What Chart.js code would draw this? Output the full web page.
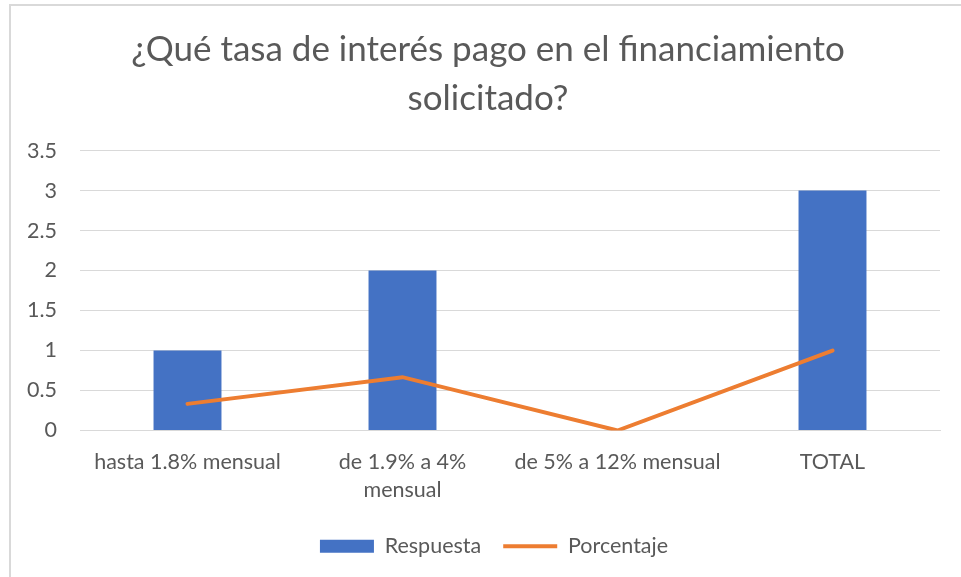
<!DOCTYPE html>
<html lang="es">
<head>
    <meta charset="UTF-8">
    <title>Tasa de interés</title>
    <script src="https://cdn.jsdelivr.net/npm/chart.js"></script>
    <style>
        body { margin: 0; background: #fff; }
        .wrap { position: relative; width: 961px; height: 577px; overflow: hidden; }
        .frame { position: absolute; left: 9px; top: 4px; width: 1000px; height: 1000px;
                 border-left: 2px solid #d9d9d9; border-top: 2px solid #d9d9d9; }
        .chart-box { position: absolute; left: 0; top: 0; width: 961px; height: 577px; }
    </style>
</head>
<body>
<div class="wrap">
    <div class="frame"></div>
    <div class="chart-box"><canvas id="rateChart"></canvas></div>
</div>

<script>
    // datos del gráfico
    const categorias = ['hasta 1.8% mensual', ['de 1.9% a 4%', 'mensual'], 'de 5% a 12% mensual', 'TOTAL'];
    const respuesta = [1, 2, 0, 3];
    const porcentaje = [0.333, 0.667, 0, 1];
    const yTicks = [0, 0.5, 1, 1.5, 2, 2.5, 3, 3.5];

    const gris = '#595959';
    const fuente = 'Lato, "Open Sans", sans-serif';

    // centra título y leyenda un poco más a la derecha, como en el original
    const desplazar = {
        id: 'desplazar',
        afterLayout: function(chart) {
            chart.titleBlock.left += 26;
            chart.legend.left += 38;
        }
    };

    const ctx = document.getElementById('rateChart').getContext('2d');
    new Chart(ctx, {
        type: 'bar',
        data: {
            labels: categorias,
            datasets: [{
                label: 'Respuesta',
                data: respuesta,
                backgroundColor: '#4472C4',
                borderWidth: 0,
                barPercentage: 0.316,
                categoryPercentage: 1,
                pointStyle: 'rect',
                order: 2
            }, {
                type: 'line',
                label: 'Porcentaje',
                data: porcentaje,
                borderColor: '#ED7D31',
                backgroundColor: '#ED7D31',
                borderWidth: 4,
                borderCapStyle: 'round',
                pointRadius: 0,
                pointStyle: 'line',
                tension: 0,
                order: 1
            }]
        },
        options: {
            responsive: true,
            maintainAspectRatio: false,
            animation: false,
            layout: { padding: { left: 10, right: 21, top: 0, bottom: 10 } },
            scales: {
                x: {
                    grid: { display: false, drawTicks: false },
                    border: { display: true, color: '#d9d9d9', width: 1 },
                    ticks: {
                        color: gris,
                        font: { family: fuente, size: 21.5, lineHeight: 1.3 },
                        padding: 18,
                        maxRotation: 0,
                        autoSkip: false
                    },
                    afterFit: function(scale) { scale.height = 83; }
                },
                y: {
                    min: 0,
                    max: 3.5,
                    afterBuildTicks: function(scale) {
                        scale.ticks = yTicks.map(v => ({ value: v }));
                    },
                    grid: { color: '#d9d9d9', lineWidth: 1, drawTicks: false },
                    border: { display: false },
                    ticks: {
                        color: gris,
                        font: { family: fuente, size: 21.5 },
                        padding: 23,
                        callback: function(value) { return String(value); }
                    },
                    afterFit: function(scale) { scale.width = 70; }
                }
            },
            plugins: {
                title: {
                    display: true,
                    text: ['¿Qué tasa de interés pago en el financiamiento', 'solicitado?'],
                    color: gris,
                    font: { family: fuente, size: 35, weight: 'normal', lineHeight: 1.38 },
                    padding: { top: 26, bottom: 28 }
                },
                legend: {
                    position: 'bottom',
                    labels: {
                        color: gris,
                        font: { family: fuente, size: 21.5 },
                        usePointStyle: true,
                        pointStyleWidth: 54,
                        boxHeight: 13,
                        padding: 22,
                        sort: function(a, b) { return a.datasetIndex - b.datasetIndex; }
                    }
                },
                tooltip: { enabled: false }
            }
        },
        plugins: [desplazar]
    });
</script>
</body>
</html>
